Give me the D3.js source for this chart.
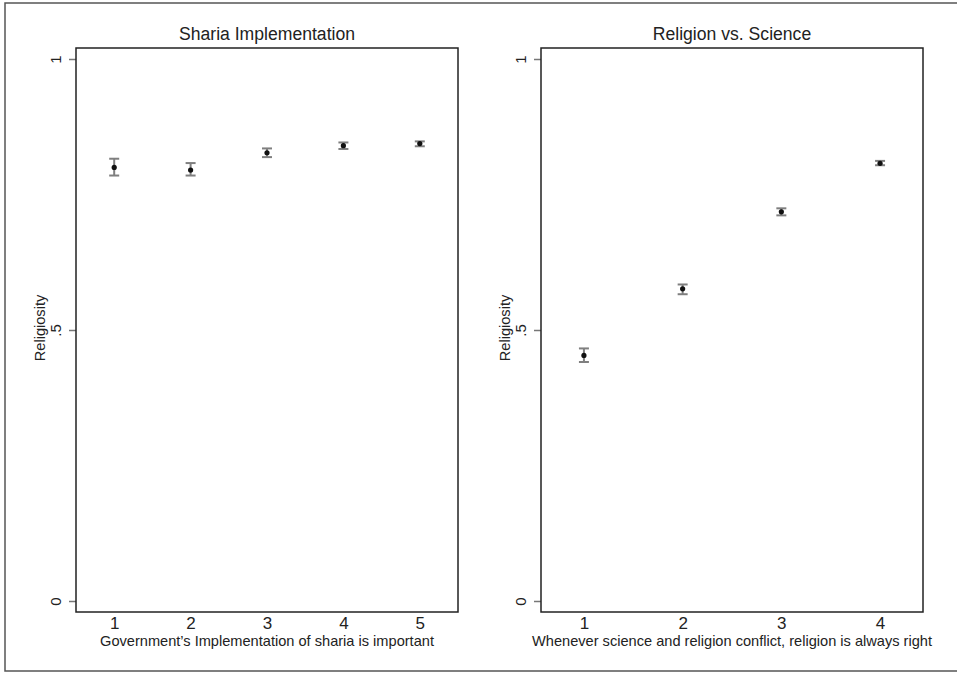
<!DOCTYPE html>
<html><head><meta charset="utf-8">
<script src="https://cdn.jsdelivr.net/npm/d3@7"></script>
<style>body{margin:0;background:#fff}svg{display:block}text{font-family:"Liberation Sans",Arial,sans-serif;fill:#222}</style>
</head><body><svg id="c" width="957" height="673"></svg>
<script>
// Panel 1: Sharia Implementation
const shariaCats = [1, 2, 3, 4, 5];
const shariaMean = [0.800, 0.795, 0.827, 0.840, 0.844];
const shariaLo   = [0.785, 0.785, 0.819, 0.834, 0.839];
const shariaHi   = [0.816, 0.808, 0.835, 0.846, 0.848];
// Panel 2: Religion vs. Science
const scienceCats = [1, 2, 3, 4];
const scienceMean = [0.453, 0.576, 0.718, 0.8075];
const scienceLo   = [0.441, 0.566, 0.7115, 0.804];
const scienceHi   = [0.466, 0.584, 0.7245, 0.812];
const yTicks = [0, 0.5, 1];
const yTickLabels = ["0", ".5", "1"];
const titles = ["Sharia Implementation", "Religion vs. Science"];
const xTitles = ["Government\u2019s Implementation of sharia is important",
                 "Whenever science and religion conflict, religion is always right"];
const yTitle = "Religiosity";

(function(){
const svg = d3.select("#c");
// outer frame
svg.append("rect").attr("x",5).attr("y",3).attr("width",957).attr("height",668)
  .attr("fill","none").attr("stroke","#555").attr("stroke-width",1.5);

const panels = [
  {cats: shariaCats, mean: shariaMean, lo: shariaLo, hi: shariaHi, left: 76, right: 458, dom: [0.5, 5.5]},
  {cats: scienceCats, mean: scienceMean, lo: scienceLo, hi: scienceHi, left: 541, right: 923, dom: [0.565, 4.435]}
];
const pTop = 48, pBottom = 612;
const y = d3.scaleLinear().domain([0,1]).range([601, 59]);

panels.forEach((p, i) => {
  const x = d3.scaleLinear().domain(p.dom).range([p.left, p.right]);
  const g = svg.append("g");
  // y axis
  const ya = g.append("g").attr("transform",`translate(${p.left},0)`)
    .call(d3.axisLeft(y).tickValues(yTicks).tickSize(7).tickFormat((d,j)=>yTickLabels[j]));
  ya.select(".domain").remove();
  ya.selectAll("line").attr("stroke","#777").attr("stroke-width",1.5);
  ya.selectAll("text").attr("font-size",15).attr("transform", d=>`rotate(-90,${-21},0)`)
    .attr("x",-21).attr("dy","0").attr("y",0)
    .attr("text-anchor","middle").attr("dominant-baseline","central")
    .style("font-family",'"Liberation Sans",Arial,sans-serif').attr("fill","#222");
  // x axis
  const xa = g.append("g").attr("transform",`translate(0,${pBottom})`)
    .call(d3.axisBottom(x).tickValues(p.cats).tickSize(0).tickPadding(5).tickFormat(d3.format("d")));
  xa.select(".domain").remove();
  xa.selectAll("text").attr("font-size",17).attr("dy","0.71em")
    .style("font-family",'"Liberation Sans",Arial,sans-serif').attr("fill","#222");
  // frame
  g.append("rect").attr("x",p.left).attr("y",pTop).attr("width",p.right-p.left).attr("height",pBottom-pTop)
    .attr("fill","none").attr("stroke","#222").attr("stroke-width",1.5);
  // titles
  g.append("text").attr("x",(p.left+p.right)/2).attr("y",40).attr("text-anchor","middle")
    .attr("font-size",17.6).text(titles[i]);
  g.append("text").attr("x",(p.left+p.right)/2).attr("y",646).attr("text-anchor","middle")
    .attr("font-size",14.6).text(xTitles[i]);
  const yl = p.left - 36;
  g.append("text").attr("transform",`translate(${yl},328) rotate(-90)`).attr("text-anchor","middle")
    .attr("dominant-baseline","central").attr("font-size",14.6).text(yTitle);
  // error bars
  const idx = d3.range(p.cats.length);
  const eb = g.selectAll(".eb").data(idx).enter().append("g").attr("stroke","#7f7f7f").attr("stroke-width",2);
  eb.append("line").attr("x1",j=>x(p.cats[j])).attr("x2",j=>x(p.cats[j]))
    .attr("y1",j=>y(p.lo[j])).attr("y2",j=>y(p.hi[j]));
  eb.append("line").attr("x1",j=>x(p.cats[j])-5).attr("x2",j=>x(p.cats[j])+5)
    .attr("y1",j=>y(p.lo[j])).attr("y2",j=>y(p.lo[j]));
  eb.append("line").attr("x1",j=>x(p.cats[j])-5).attr("x2",j=>x(p.cats[j])+5)
    .attr("y1",j=>y(p.hi[j])).attr("y2",j=>y(p.hi[j]));
  g.selectAll(".pt").data(idx).enter().append("circle")
    .attr("cx",j=>x(p.cats[j])).attr("cy",j=>y(p.mean[j])).attr("r",2.6).attr("fill","#111");
});
})();
</script></body></html>
